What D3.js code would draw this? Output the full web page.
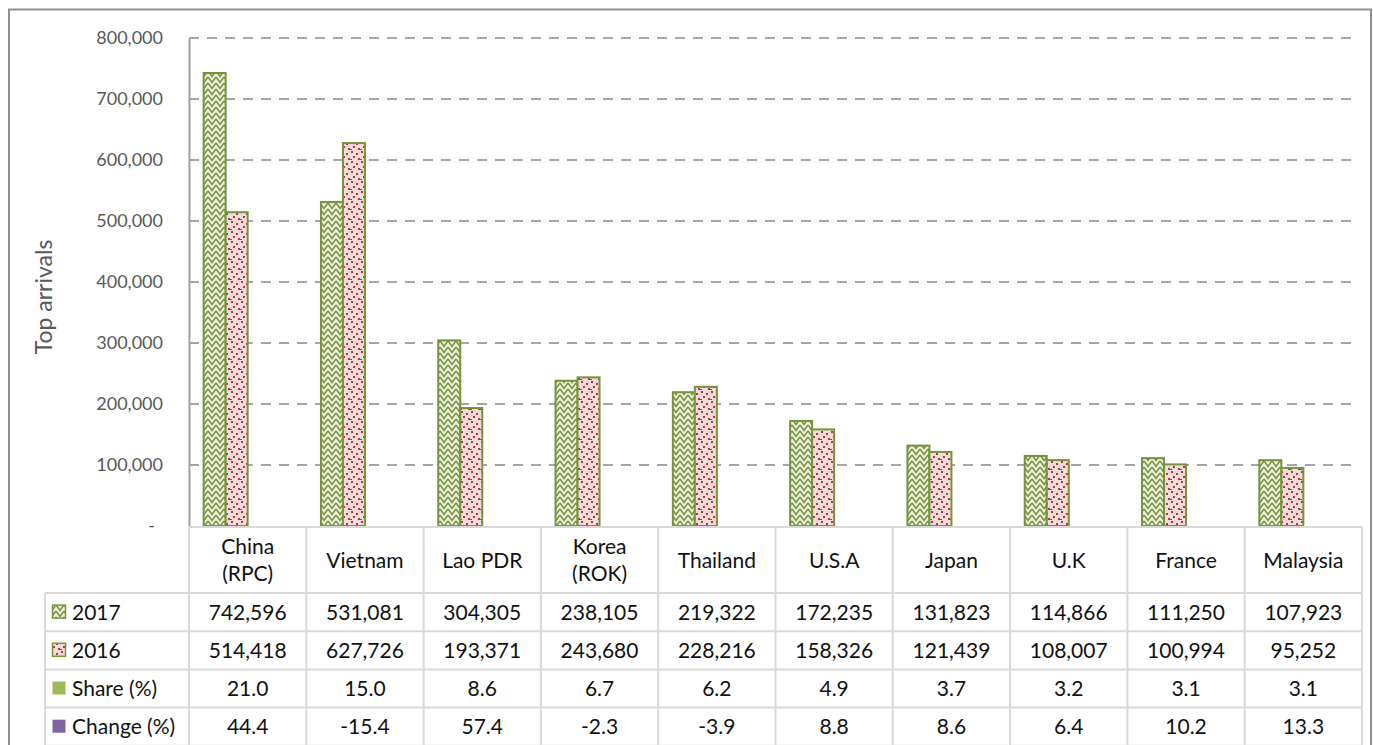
<!DOCTYPE html>
<html>
<head>
<meta charset="utf-8">
<script src="https://cdn.jsdelivr.net/npm/d3@7/dist/d3.min.js"></script>
<style>
  body { margin: 0; background: #fff; }
  text { font-family: Lato, "Open Sans", sans-serif; }
</style>
</head>
<body>
<svg id="chart" width="1373" height="745"></svg>
<script>
// chart data
const categories = ["China (RPC)", "Vietnam", "Lao PDR", "Korea (ROK)", "Thailand",
                    "U.S.A", "Japan", "U.K", "France", "Malaysia"];
const arrivals2017 = [742596, 531081, 304305, 238105, 219322, 172235, 131823, 114866, 111250, 107923];
const arrivals2016 = [514418, 627726, 193371, 243680, 228216, 158326, 121439, 108007, 100994, 95252];
const sharePct = [21.0, 15.0, 8.6, 6.7, 6.2, 4.9, 3.7, 3.2, 3.1, 3.1];
const changePct = [44.4, -15.4, 57.4, -2.3, -3.9, 8.8, 8.6, 6.4, 10.2, 13.3];
const seriesNames = ["2017", "2016", "Share (%)", "Change (%)"];
const yTicks = [0, 100000, 200000, 300000, 400000, 500000, 600000, 700000, 800000];

const svg = d3.select("#chart");
const green = "#77933c";

// fill patterns
const defs = svg.append("defs");
const zig = defs.append("pattern").attr("id", "zig")
  .attr("patternUnits", "userSpaceOnUse").attr("width", 8).attr("height", 6);
zig.append("rect").attr("width", 8).attr("height", 6).attr("fill", "#ebf1de");
zig.append("path").attr("d", "M0,-1 L4,4.5 L8,-1 M0,5 L4,10.5 L8,5").attr("fill", "none")
  .attr("stroke", green).attr("stroke-width", 1.6);

const dots = defs.append("pattern").attr("id", "dots")
  .attr("patternUnits", "userSpaceOnUse").attr("width", 10).attr("height", 10);
dots.append("rect").attr("width", 10).attr("height", 10).attr("fill", "#f2dcdb");
[[1, 1], [6, 3], [3, 6], [8, 8], [0, 9]].forEach(p => {
  dots.append("rect").attr("x", p[0]).attr("y", p[1])
    .attr("width", 2).attr("height", 2).attr("fill", "#b03a3a");
});

const fills = ["url(#zig)", "url(#dots)", "#9bbb59", "#8064a2"];
const strokes = [green, green, "none", "none"];

// outer frame
svg.append("rect")
  .attr("x", 9).attr("y", 9.5).attr("width", 1362).attr("height", 800)
  .attr("fill", "none").attr("stroke", "#8f8f8f").attr("stroke-width", 2);

const x = d3.scaleBand().domain(categories).range([189, 1362]);
const xs = d3.scaleBand().domain(seriesNames).range([0, x.bandwidth()])
  .paddingInner(0).paddingOuter(0.665);
const y = d3.scaleLinear().domain([0, 800000]).range([526, 38]);

// gridlines
svg.append("g").selectAll("line")
  .data(yTicks.filter(d => d > 0))
  .join("line")
  .attr("x1", 189).attr("x2", 1358)
  .attr("y1", d => y(d)).attr("y2", d => y(d))
  .attr("stroke", "#a6a6a6").attr("stroke-width", 2)
  .attr("stroke-dasharray", "10,8");

// y axis
const yAxis = svg.append("g")
  .attr("transform", "translate(189,0)")
  .call(d3.axisLeft(y).tickValues(yTicks).tickSize(0).tickPadding(26)
    .tickFormat(d => d === 0 ? "-" : d3.format(",")(d)));
yAxis.select(".domain").attr("stroke", "#a0a0a0").attr("stroke-width", 2);
yAxis.selectAll("text")
  .attr("font-size", 18).attr("fill", "#595959")
  .attr("font-family", "Lato, sans-serif");
yAxis.selectAll(".tick").filter(d => d === 0).select("text").attr("dx", -8);

svg.append("text")
  .attr("transform", "translate(52,297) rotate(-90)")
  .attr("text-anchor", "middle")
  .attr("font-size", 23).attr("fill", "#595959")
  .text("Top arrivals");

// bars
const seriesData = [arrivals2017, arrivals2016, sharePct, changePct];
const barG = svg.append("g");
seriesData.forEach((vals, si) => {
  barG.append("g").selectAll("rect")
    .data(vals)
    .join("rect")
    .attr("x", (d, i) => x(categories[i]) + xs(seriesNames[si]))
    .attr("y", d => y(Math.max(0, d)))
    .attr("width", xs.bandwidth())
    .attr("height", d => Math.abs(y(d) - y(0)))
    .attr("fill", fills[si])
    .attr("stroke", strokes[si])
    .attr("stroke-width", 2);
});

// data table
const tableLeft = 45, tableRight = 1362;
const headTop = 527, rowTop = 593, rowH = 38.2;
const lineCol = "#d9d9d9";
const tg = svg.append("g");

tg.append("line").attr("x1", 189).attr("x2", tableRight)
  .attr("y1", headTop).attr("y2", headTop)
  .attr("stroke", lineCol).attr("stroke-width", 2);
d3.range(5).forEach(r => {
  const yy = rowTop + r * rowH;
  tg.append("line").attr("x1", tableLeft).attr("x2", tableRight)
    .attr("y1", yy).attr("y2", yy)
    .attr("stroke", lineCol).attr("stroke-width", 2);
});
tg.append("line").attr("x1", tableLeft).attr("x2", tableLeft)
  .attr("y1", rowTop).attr("y2", 800)
  .attr("stroke", lineCol).attr("stroke-width", 2);
tg.selectAll(".vline")
  .data(categories.concat(["end"]))
  .join("line")
  .attr("x1", (d, i) => 189 + i * x.step())
  .attr("x2", (d, i) => 189 + i * x.step())
  .attr("y1", headTop).attr("y2", 800)
  .attr("stroke", lineCol).attr("stroke-width", 2);

// category headers
const headCenter = (headTop + rowTop) / 2;
categories.forEach(c => {
  const lines = c.includes("(") ? [c.slice(0, c.indexOf(" (")), c.slice(c.indexOf("("))] : [c];
  const t = tg.append("text")
    .attr("text-anchor", "middle")
    .attr("font-size", 21).attr("fill", "#111");
  lines.forEach((ln, li) => {
    t.append("tspan")
      .attr("x", x(c) + x.bandwidth() / 2)
      .attr("y", headCenter + 7.5 + (li - (lines.length - 1) / 2) * 27)
      .text(ln);
  });
});

// rows (plain hyphen for negatives, like the source table)
const fmtNum = d3.format(",");
const fmtPct = v => d3.format(".1f")(v).replace("\u2212", "-");
const fmtRow = [fmtNum, fmtNum, fmtPct, fmtPct];
seriesData.forEach((vals, si) => {
  const cy = rowTop + si * rowH + rowH / 2;
  tg.append("rect")
    .attr("x", 52.5).attr("y", cy - 7).attr("width", 13).attr("height", 13)
    .attr("fill", fills[si])
    .attr("stroke", si < 2 ? green : "none").attr("stroke-width", 1.5);
  tg.append("text")
    .attr("x", 72).attr("y", cy + 7.5)
    .attr("font-size", 21).attr("fill", "#111")
    .text(seriesNames[si]);
  tg.append("g").selectAll("text")
    .data(vals)
    .join("text")
    .attr("x", (d, i) => x(categories[i]) + x.bandwidth() / 2)
    .attr("y", cy + 7.5)
    .attr("text-anchor", "middle")
    .attr("font-size", 21).attr("fill", "#111")
    .text(d => fmtRow[si](d));
});
</script>
</body>
</html>
